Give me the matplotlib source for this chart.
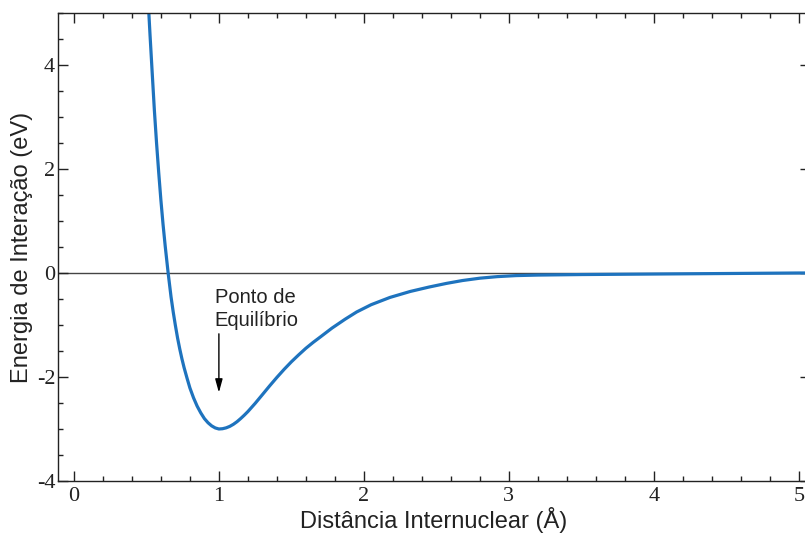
import matplotlib
matplotlib.use("Agg")
import matplotlib.pyplot as plt
from matplotlib.ticker import MultipleLocator

plt.rcParams["axes.unicode_minus"] = False

# curve (distance in Angstrom, energy in eV)
dist = [0.510, 0.525, 0.540, 0.555, 0.570, 0.585, 0.600, 0.615, 0.630, 0.650,
        0.670, 0.685, 0.700, 0.715, 0.730, 0.745, 0.760, 0.780, 0.800, 0.825,
        0.850, 0.875, 0.900, 0.925, 0.950, 0.975, 1.000, 1.025, 1.050, 1.075,
        1.100, 1.125, 1.150, 1.175, 1.200, 1.250, 1.300, 1.350, 1.400, 1.450,
        1.500, 1.550, 1.600, 1.650, 1.700, 1.780, 1.870, 1.950, 2.050, 2.180,
        2.320, 2.450, 2.570, 2.680, 2.800, 2.920, 3.050, 3.200, 3.500, 4.000,
        4.500, 5.000, 5.100]
energy = [5.35, 4.58, 3.85, 3.13, 2.50, 1.93, 1.40, 0.93, 0.51, 0.00,
          -0.46, -0.75, -1.01, -1.25, -1.46, -1.65, -1.82, -2.02, -2.21, -2.40,
          -2.56, -2.69, -2.80, -2.88, -2.94, -2.98, -3.00, -2.995, -2.978, -2.95,
          -2.91, -2.86, -2.80, -2.735, -2.665, -2.508, -2.340, -2.171, -2.008, -1.853,
          -1.708, -1.575, -1.448, -1.335, -1.23, -1.06, -0.89, -0.75, -0.61, -0.47,
          -0.355, -0.27, -0.20, -0.145, -0.10, -0.07, -0.05, -0.04, -0.03, -0.02,
          -0.01, 0.00, 0.00]

x_ticks = [0, 1, 2, 3, 4, 5]
y_ticks = [-4, -2, 0, 2, 4]
eq_x, eq_y = 1.0, -3.0

fig = plt.figure(figsize=(8.05, 5.33), dpi=100)
ax = fig.add_axes([0.072, 0.0976, 0.934, 0.878])

ax.axhline(0, color="#444444", lw=1.0, zorder=1)
ax.plot(dist, energy, color="#1e73be", lw=2.3, zorder=2)

ax.annotate("", xy=(eq_x, eq_y + 0.7), xytext=(eq_x, eq_y + 1.83),
            arrowprops=dict(arrowstyle="-|>,head_length=0.8,head_width=0.22",
                            color="black", lw=1.0, shrinkA=0, shrinkB=0))
ax.text(eq_x - 0.03, eq_y + 1.9, "Ponto de\nEquilíbrio", ha="left", va="bottom",
        fontsize=14.5, family="Liberation Sans", color="#222222", linespacing=1.25)

ax.set_xlim(-0.11, 5.076)
ax.set_ylim(-4, 5)
ax.set_xticks(x_ticks)
ax.set_yticks(y_ticks)
ax.xaxis.set_minor_locator(MultipleLocator(0.2))
ax.yaxis.set_minor_locator(MultipleLocator(0.5))
ax.tick_params(which="both", direction="in", top=True, right=True, width=1.0,
               colors="#222222")
ax.tick_params(which="major", length=7.5)
ax.tick_params(which="minor", length=3.5)
ax.tick_params(axis="x", pad=4)
ax.tick_params(axis="y", pad=2)
for lab in ax.get_xticklabels() + ax.get_yticklabels():
    lab.set_family("Liberation Serif")
    lab.set_fontsize(16)
    lab.set_color("#222222")
for s in ax.spines.values():
    s.set_color("#222222")
    s.set_linewidth(1.0)

ax.set_xlabel("Distância Internuclear (Å)", fontsize=17, family="Liberation Sans",
              color="#222222", labelpad=1)
ax.set_ylabel("Energia de Interação (eV)", fontsize=17, family="Liberation Sans",
              color="#222222", labelpad=3)

fig.savefig("out.png", dpi=100)
